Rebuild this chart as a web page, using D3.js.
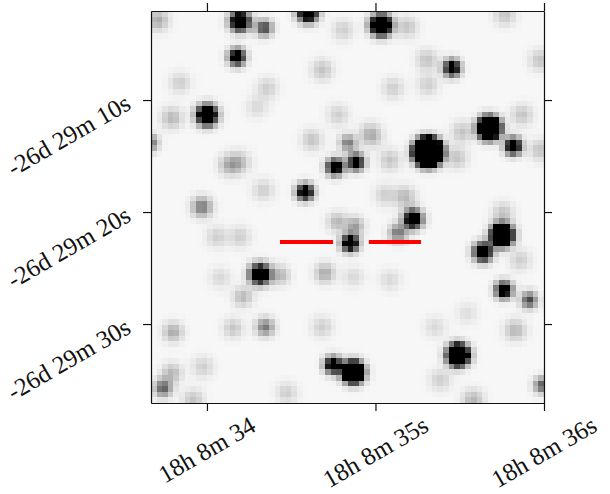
<!DOCTYPE html>
<html><head><meta charset="utf-8">
<script src="https://cdn.jsdelivr.net/npm/d3@7"></script>
<style>body{margin:0;background:#fff}svg{display:block}</style>
</head><body>
<svg id="c" width="610" height="494"></svg>
<script>
// ---- data ----
const raTicks = [34, 35, 36];
const raTickLabels = ["18h 8m 34", "18h 8m 35s", "18h 8m 36s"];
const decTicks = [10, 20, 30];
const decTickLabels = ["-26d 29m 10s", "-26d 29m 20s", "-26d 29m 30s"];

// stars: RA seconds (18h 8m +s), Dec arcsec (-26d 29m +s), peak flux, psf sigma (arcsec)
const starRA = [34.196,34.338,34.599,34.178,34.000,34.760,34.582,33.970,34.837,33.662,34.884,35.033,35.454,35.312,35.674,35.816,35.751,35.638,35.223,35.134,34.849,34.878,35.763,35.911,35.490,34.867,34.748,34.315,35.988,33.739,34.344,34.700,34.772,34.214,33.798,34.154,34.433,33.792,33.917,34.475,33.976,35.383,35.579,35.828,35.353,35.086,34.867,35.858,35.757,35.056,35.175,35.086,34.623,34.967,33.709,33.792,34.137,34.683,34.356,34.777,33.840,34.807,34.332,34.297,35.187,35.306,35.312,35.104,35.769,35.976,35.513,35.484,35.870,35.976,34.979,34.059,34.196,34.077,34.683,35.543,34.196];
const starDec = [2.95,3.57,2.14,6.16,11.34,15.98,18.21,19.55,13.84,13.84,15.54,3.30,7.14,14.64,12.50,14.11,22.05,23.57,20.63,21.88,22.77,21.25,26.96,27.86,32.77,34.29,33.66,25.54,35.45,35.71,30.27,25.45,20.89,27.59,30.71,30.36,25.63,34.38,36.79,36.16,33.84,35.00,36.79,30.54,30.27,26.07,25.80,24.29,20.09,18.48,18.66,15.36,13.57,12.95,2.86,11.61,15.80,7.32,8.93,11.34,8.48,3.75,18.04,10.63,3.48,6.43,8.66,8.93,2.41,6.43,12.86,15.18,11.34,14.46,13.30,22.23,22.23,25.89,30.27,29.02,15.54];
const starFlux = [1.8,0.75,1.8,1.4,2.1,1.4,1.4,0.5,0.5,0.55,1.25,2.6,1.3,10.6,4.2,1.4,3.3,1.6,1.6,0.5,1.5,0.35,1.3,0.7,3.3,3.3,1.4,1.8,0.6,0.6,0.5,0.3,0.25,0.25,0.3,0.2,0.25,0.25,0.2,0.16,0.16,0.16,0.25,0.25,0.12,0.12,0.12,0.16,0.2,0.16,0.25,0.2,0.2,0.16,0.3,0.25,0.3,0.2,0.16,0.16,0.16,0.16,0.16,0.12,0.2,0.2,0.16,0.16,0.2,0.2,0.2,0.2,0.2,0.2,0.16,0.16,0.16,0.12,0.16,0.1,0.2];
const starSigma = [0.58,0.5,0.58,0.5,0.58,0.5,0.5,0.6,0.5,0.5,0.5,0.58,0.5,0.62,0.58,0.5,0.58,0.55,0.55,0.55,0.5,0.55,0.5,0.5,0.58,0.58,0.5,0.58,0.5,0.55,0.55,0.6,0.6,0.6,0.6,0.6,0.6,0.6,0.65,0.65,0.65,0.65,0.65,0.65,0.65,0.65,0.65,0.65,0.65,0.65,0.65,0.65,0.65,0.65,0.65,0.65,0.65,0.65,0.65,0.65,0.65,0.65,0.65,0.65,0.65,0.65,0.65,0.65,0.65,0.65,0.65,0.65,0.65,0.65,0.65,0.65,0.65,0.65,0.65,0.65,0.65];
const skyLevel = 0.03;
const imagePixels = 70;

// target marker bars
const markerRA0 = [34.433, 34.961];
const markerRA1 = [34.748, 35.270];
const markerDec = [22.68, 22.68];

// ---- layout ----
const L = 151, R = 544, T = 11, B = 403;
const svg = d3.select("#c");
const x = d3.scaleLinear().domain([33.668, 36.0]).range([L, R]);
const y = d3.scaleLinear().domain([2.05, 37.05]).range([T, B]);
const pxPerArcsec = y(1) - y(0);

// image raster
const cw = (R - L) / imagePixels, ch = (B - T) / imagePixels;
const sx = starRA.map(d => x(d)), sy = starDec.map(d => y(d));
const cells = [];
for (let j = 0; j < imagePixels; j++) for (let i = 0; i < imagePixels; i++) {
  const cx = L + (i + 0.5) * cw, cy = T + (j + 0.5) * ch;
  let v = skyLevel;
  for (let k = 0; k < starRA.length; k++) {
    const s = starSigma[k] * pxPerArcsec;
    const dx = cx - sx[k], dy = cy - sy[k];
    v += starFlux[k] * Math.exp(-(dx*dx + dy*dy) / (2*s*s));
  }
  cells.push({i, j, v: Math.min(1, v)});
}
const gray = d3.scaleLinear().domain([0, 1]).range(["#ffffff", "#000000"]);
svg.append("g").attr("shape-rendering", "crispEdges")
  .selectAll("rect").data(cells).join("rect")
  .attr("x", d => L + d.i * cw).attr("y", d => T + d.j * ch)
  .attr("width", cw + 0.6).attr("height", ch + 0.6)
  .attr("fill", d => gray(d.v));

// markers
svg.append("g").selectAll("line").data(markerRA0).join("line")
  .attr("x1", d => x(d)).attr("x2", (d, i) => x(markerRA1[i]))
  .attr("y1", (d, i) => y(markerDec[i])).attr("y2", (d, i) => y(markerDec[i]))
  .attr("stroke", "#ff0000").attr("stroke-width", 4);

// axes
const tl = 8;
const axB = d3.axisBottom(x).tickValues(raTicks).tickSize(tl).tickSizeOuter(0).tickFormat("");
const axT = d3.axisTop(x).tickValues(raTicks).tickSize(tl).tickSizeOuter(0).tickFormat("");
const axL = d3.axisLeft(y).tickValues(decTicks).tickSize(tl).tickSizeOuter(0).tickFormat("");
const axR = d3.axisRight(y).tickValues(decTicks).tickSize(tl).tickSizeOuter(0).tickFormat("");
[[axB, `translate(0,${B})`], [axT, `translate(0,${T})`], [axL, `translate(${L},0)`], [axR, `translate(${R},0)`]]
  .forEach(([a, t]) => {
    const g = svg.append("g").attr("transform", t).call(a);
    g.selectAll("path,line").attr("stroke", "#111").attr("stroke-width", 1.2);
  });

// rotated tick labels
const font = "Liberation Serif";
function place(txt, anchorX, anchorY, mode) {
  const g = svg.append("g").attr("transform", `translate(${anchorX},${anchorY})`);
  const t = g.append("text").attr("transform", "rotate(-30)")
    .attr("text-anchor", mode === "x" ? "middle" : "end")
    .style("font-family", font).style("font-size", "25px").attr("fill", "#111").text(txt);
  const bb = t.node().getBoundingClientRect();
  let dx, dy;
  if (mode === "x") { dx = anchorX - (bb.left + bb.right) / 2; dy = 411 - bb.top; }
  else { dx = 135 - bb.right; dy = (anchorY - 11) - bb.top; }
  g.attr("transform", `translate(${anchorX + dx},${anchorY + dy})`);
}
raTicks.forEach((v, i) => place(raTickLabels[i], x(v), 440, "x"));
decTicks.forEach((v, i) => place(decTickLabels[i], 130, y(v), "y"));
</script>
</body></html>
